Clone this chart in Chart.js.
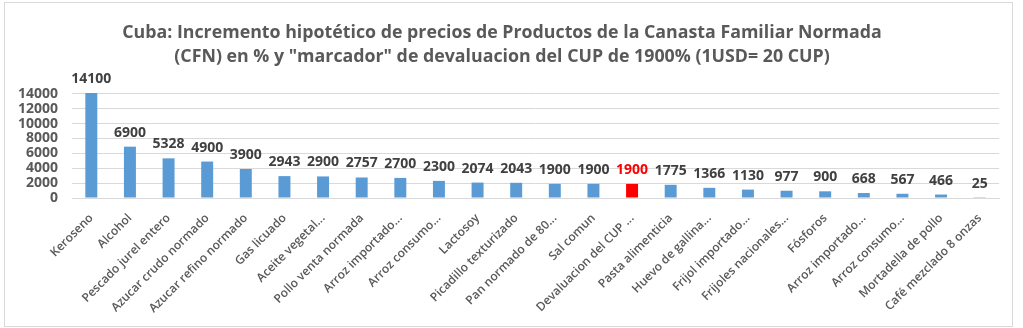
<!DOCTYPE html>
<html>
<head>
<meta charset="utf-8">
<script src="https://cdn.jsdelivr.net/npm/chart.js@4.4.1/dist/chart.umd.min.js"></script>
<style>
  html, body { margin: 0; padding: 0; background: #ffffff; }
  #frame { position: absolute; left: 4px; top: 2px; width: 1007px; height: 323px; border: 1px solid #d9d9d9; background: #fff; }
  #c { display: block; }
</style>
</head>
<body>
<div id="frame"><canvas id="c" width="1007" height="323"></canvas></div>
<script>
const titleLines = [
  'Cuba: Incremento hipotético de precios de Productos de la Canasta Familiar Normada',
  '(CFN) en % y "marcador" de devaluacion del CUP de 1900% (1USD= 20 CUP)'
];
const categories = [
  'Keroseno', 'Alcohol', 'Pescado jurel entero', 'Azucar crudo normado',
  'Azucar refino normado', 'Gas licuado', 'Aceite vegetal...', 'Pollo venta normada',
  'Arroz importado...', 'Arroz consumo...', 'Lactosoy', 'Picadillo texturizado',
  'Pan normado de 80...', 'Sal comun', 'Devaluacion del CUP ...', 'Pasta alimenticia',
  'Huevo de gallina...', 'Frijol importado...', 'Frijoles nacionales...', 'Fósforos',
  'Arroz importado...', 'Arroz consumo...', 'Mortadella de pollo', 'Café mezclado 8 onzas'
];
const values = [
  14100, 6900, 5328, 4900, 3900, 2943, 2900, 2757, 2700, 2300, 2074, 2043,
  1900, 1900, 1900, 1775, 1366, 1130, 977, 900, 668, 567, 466, 25
];
const highlightCategory = 'Devaluacion del CUP ...';
const yTicks = [0, 2000, 4000, 6000, 8000, 10000, 12000, 14000];

const BLUE = '#5b9bd5';
const RED = '#ff0000';
const barColors = categories.map(c => c === highlightCategory ? RED : BLUE);
const labelColors = categories.map(c => c === highlightCategory ? RED : '#404040');

const valueLabels = {
  id: 'valueLabels',
  afterDatasetsDraw(chart) {
    const ctx = chart.ctx;
    const meta = chart.getDatasetMeta(0);
    ctx.save();
    ctx.font = 'bold 14px "Open Sans"';
    ctx.textAlign = 'center';
    ctx.textBaseline = 'alphabetic';
    meta.data.forEach((bar, i) => {
      ctx.fillStyle = labelColors[i];
      ctx.fillText(String(values[i]), bar.x, bar.y - 10);
    });
    ctx.restore();
  }
};

new Chart(document.getElementById('c'), {
  type: 'bar',
  data: {
    labels: categories,
    datasets: [{
      data: values,
      backgroundColor: barColors,
      borderWidth: 0,
      barPercentage: 0.31,
      categoryPercentage: 1.0,
      clip: false
    }]
  },
  options: {
    responsive: false,
    animation: false,
    events: [],
    layout: { padding: { left: 0, right: 13, top: 0, bottom: 0 } },
    plugins: {
      legend: { display: false },
      tooltip: { enabled: false },
      title: {
        display: true,
        text: titleLines,
        color: '#595959',
        font: { family: '"Open Sans"', size: 17.8, weight: 'bold', lineHeight: 1.4 },
        padding: { top: 17, bottom: 24 }
      }
    },
    scales: {
      x: {
        grid: { display: false, drawTicks: false },
        border: { display: true, color: '#d9d9d9', width: 1 },
        ticks: {
          autoSkip: false,
          minRotation: 45,
          maxRotation: 45,
          padding: 13,
          color: '#595959',
          font: { family: '"Open Sans"', size: 12, weight: '600' }
        },
        afterFit(scale) { scale.height = 128; }
      },
      y: {
        min: 0,
        max: 14000,
        afterBuildTicks(scale) { scale.ticks = yTicks.map(v => ({ value: v })); },
        grid: { color: '#d9d9d9', drawTicks: false },
        border: { display: false },
        ticks: {
          autoSkip: false,
          padding: 14,
          color: '#595959',
          font: { family: '"Open Sans"', size: 14, weight: 'bold', lineHeight: 1 },
          callback: (v) => String(v)
        },
        afterFit(scale) { scale.width = 67; }
      }
    }
  },
  plugins: [valueLabels]
});
</script>
</body>
</html>
